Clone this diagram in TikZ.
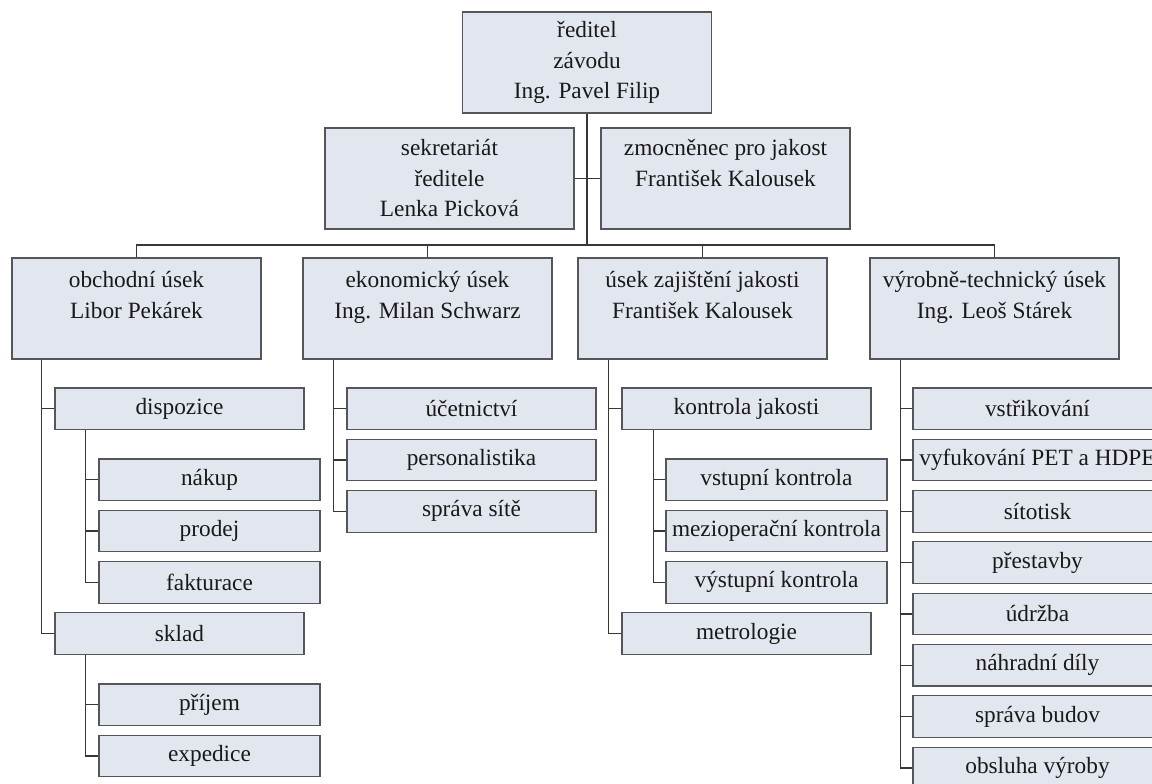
\documentclass[tikz,border=0pt]{standalone}
\usepackage{fontspec}
\setmainfont{Liberation Serif}
\definecolor{boxfill}{RGB}{226,230,238}
\definecolor{boxline}{RGB}{85,85,90}
\definecolor{wire}{RGB}{55,55,55}
\tikzset{
  unit/.style={draw=boxline, line width=1.1pt, fill=boxfill, inner sep=0pt,
    align=center, text=black!90, font=\fontsize{23.3}{30.5}\selectfont},
  bigbox/.style={unit, minimum width=249pt, minimum height=101pt},
  midbox/.style={unit, minimum width=249pt, minimum height=41.5pt},
  smallbox/.style={unit, minimum width=221pt, minimum height=41.5pt},
  wireline/.style={draw=wire, line width=1.4pt}
}
\begin{document}
\begin{tikzpicture}[x=1pt, y=-1pt]
\useasboundingbox (0,0) rectangle (1152,784);

% management
\node[bigbox] (dir) at (587,62.5) {ředitel\\závodu\\Ing. Pavel Filip};
\node[bigbox] (sek) at (449.5,178.5) {sekretariát\\ředitele\\Lenka Picková};
\node[bigbox] (zmo) at (725.5,178.5) {zmocněnec pro jakost\\František Kalousek\\[-8pt]\strut};

% divisions
\node[bigbox] (obch) at (136.5,308.5) {obchodní úsek\\Libor Pekárek\\[-12pt]\strut};
\node[bigbox] (eko)  at (427.5,308.5) {ekonomický úsek\\Ing. Milan Schwarz\\[-12pt]\strut};
\node[bigbox] (zaj)  at (702.5,308.5) {úsek zajištění jakosti\\František Kalousek\\[-12pt]\strut};
\node[bigbox] (vyr)  at (994.5,308.5) {výrobně-technický úsek\\Ing. Leoš Stárek\\[-12pt]\strut};

% commercial division
\node[midbox]   (disp)   at (179.5,408.75) {dispozice};
\node[smallbox] (nakup)  at (209.5,479.75) {nákup};
\node[smallbox] (prodej) at (209.5,531.05) {prodej};
\node[smallbox] (fakt)   at (209.5,582.35) {fakturace};
\node[midbox]   (sklad)  at (179.5,633.65) {sklad};
\node[smallbox] (prijem) at (209.5,704.75) {příjem};
\node[smallbox] (exped)  at (209.5,756.05) {expedice};

% economic division
\node[midbox] (ucet) at (471.5,408.75) {účetnictví};
\node[midbox] (pers) at (471.5,460.05) {personalistika};
\node[midbox] (site) at (471.5,511.35) {správa sítě};

% quality division
\node[midbox]   (kontr)  at (746.5,408.75) {kontrola jakosti};
\node[smallbox] (vstup)  at (776.5,479.75) {vstupní kontrola};
\node[smallbox] (mezi)   at (776.5,531.05) {mezioperační kontrola};
\node[smallbox] (vystup) at (776.5,582.35) {výstupní kontrola};
\node[midbox]   (metro)  at (746.5,633.65) {metrologie};

% production division
\node[midbox] (vstrik) at (1037.5,408.75) {vstřikování};
\node[midbox] (vyfuk)  at (1037.5,460.05) {vyfukování PET a HDPE};
\node[midbox] (sito)   at (1037.5,511.35) {sítotisk};
\node[midbox] (prest)  at (1037.5,562.65) {přestavby};
\node[midbox] (udrz)   at (1037.5,613.95) {údržba};
\node[midbox] (nd)     at (1037.5,665.25) {náhradní díly};
\node[midbox] (budovy) at (1037.5,716.55) {správa budov};
\node[midbox] (obsl)   at (1037.5,767.85) {obsluha výroby};

% top level wiring
\coordinate (bus) at (0,245);
\draw[wireline] (dir.south) -- (dir.south |- bus);
\draw[wireline] (sek.east) -- (zmo.west);
\draw[wireline] (obch.north) |- (bus -| vyr.north) -- (vyr.north);
\draw[wireline] (eko.north) -- (eko.north |- bus);
\draw[wireline] (zaj.north) -- (zaj.north |- bus);

% commercial spine
\coordinate (s1) at ([xshift=30]obch.south west);
\draw[wireline] (s1) |- (sklad.west);
\draw[wireline] (disp.west) -- (disp.west -| s1);
\coordinate (s1a) at ([xshift=31]disp.south west);
\draw[wireline] (s1a) |- (fakt.west);
\foreach \n in {nakup,prodej} \draw[wireline] (\n.west) -- (\n.west -| s1a);
\coordinate (s1b) at ([xshift=31]sklad.south west);
\draw[wireline] (s1b) |- (exped.west);
\draw[wireline] (prijem.west) -- (prijem.west -| s1b);

% economic spine
\coordinate (s2) at ([xshift=31]eko.south west);
\draw[wireline] (s2) |- (site.west);
\foreach \n in {ucet,pers} \draw[wireline] (\n.west) -- (\n.west -| s2);

% quality spine
\coordinate (s3) at ([xshift=31]zaj.south west);
\draw[wireline] (s3) |- (metro.west);
\draw[wireline] (kontr.west) -- (kontr.west -| s3);
\coordinate (s3a) at ([xshift=32]kontr.south west);
\draw[wireline] (s3a) |- (vystup.west);
\foreach \n in {vstup,mezi} \draw[wireline] (\n.west) -- (\n.west -| s3a);

% production spine
\coordinate (s4) at ([xshift=31]vyr.south west);
\draw[wireline] (s4) |- (obsl.west);
\foreach \n in {vstrik,vyfuk,sito,prest,udrz,nd,budovy}
  \draw[wireline] (\n.west) -- (\n.west -| s4);
\end{tikzpicture}
\end{document}
